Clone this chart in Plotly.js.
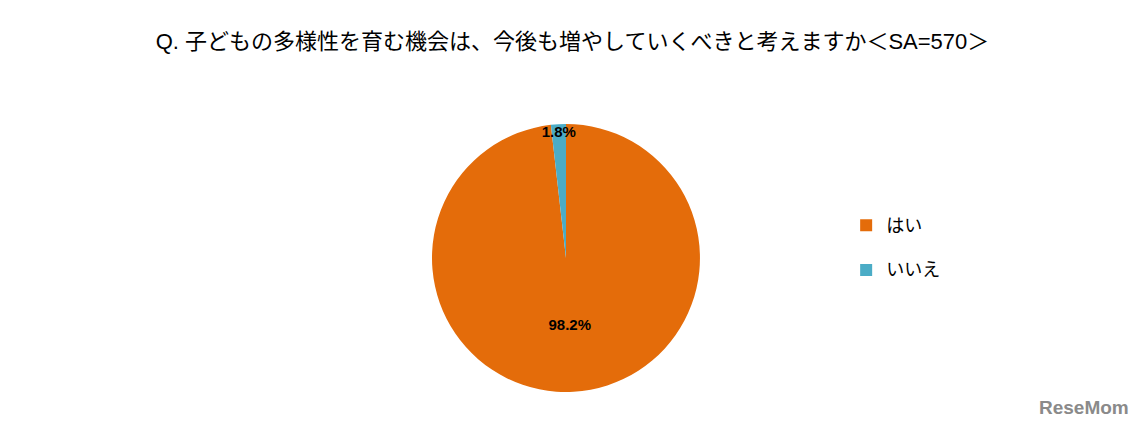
<!DOCTYPE html>
<html>
<head>
<meta charset="utf-8">
<script src="https://cdn.plot.ly/plotly-3.0.1.min.js"></script>
<style>html,body{margin:0;padding:0;background:#fff;}#chart{width:1145px;height:435px;}</style>
</head>
<body>
<div id="chart"></div>
<script>
const categories = ["はい", "いいえ"];
const values = [98.2, 1.8];
const colors = ["#E46C0A", "#4BACC6"];

const labelText = values.map(v => v.toFixed(1) + "%");
const legendLabels = categories.map(c => "<span style='font-size:18px'>" + c + "</span><br> ");

const trace = {
  type: "pie",
  labels: legendLabels,
  values: values,
  text: labelText,
  textinfo: "text",
  textposition: "inside",
  insidetextorientation: "horizontal",
  sort: false,
  direction: "clockwise",
  rotation: 0,
  marker: {colors: colors, line: {color: "#ffffff", width: 0}},
  textfont: {family: "Liberation Sans, Arial, sans-serif", size: 15, color: "#000000", weight: "bold"},
  hoverinfo: "label+percent",
  domain: {x: [0.3764, 0.6122], y: [0.0989, 0.7149]}
};

const layout = {
  width: 1145, height: 435,
  margin: {l: 0, r: 0, t: 0, b: 0},
  paper_bgcolor: "#ffffff",
  title: {
    text: "Q. 子どもの多様性を育む機会は、今後も増やしていくべきと考えますか＜SA=570＞",
    font: {family: "Liberation Sans, Noto Sans CJK JP, sans-serif", size: 22, color: "#000000"},
    x: 0.5, xanchor: "center", y: 0.905, yanchor: "middle"
  },
  uniformtext: {minsize: 15, mode: "show"},
  showlegend: true,
  legend: {
    x: 0.739, y: 0.406, xanchor: "left", yanchor: "middle",
    valign: "top",
    font: {family: "Noto Sans CJK JP, sans-serif", size: 16, color: "#000000"},
    itemwidth: 30
  },
  annotations: [{
    text: "<b>ReseMom</b>", showarrow: false,
    x: 0.988, y: 0.035, xref: "paper", yref: "paper", xanchor: "right", yanchor: "bottom",
    font: {family: "Liberation Sans, Arial, sans-serif", size: 19, color: "#8a8a8a"}
  }]
};

Plotly.newPlot("chart", [trace], layout, {displayModeBar: false, staticPlot: true});
</script>
</body>
</html>
